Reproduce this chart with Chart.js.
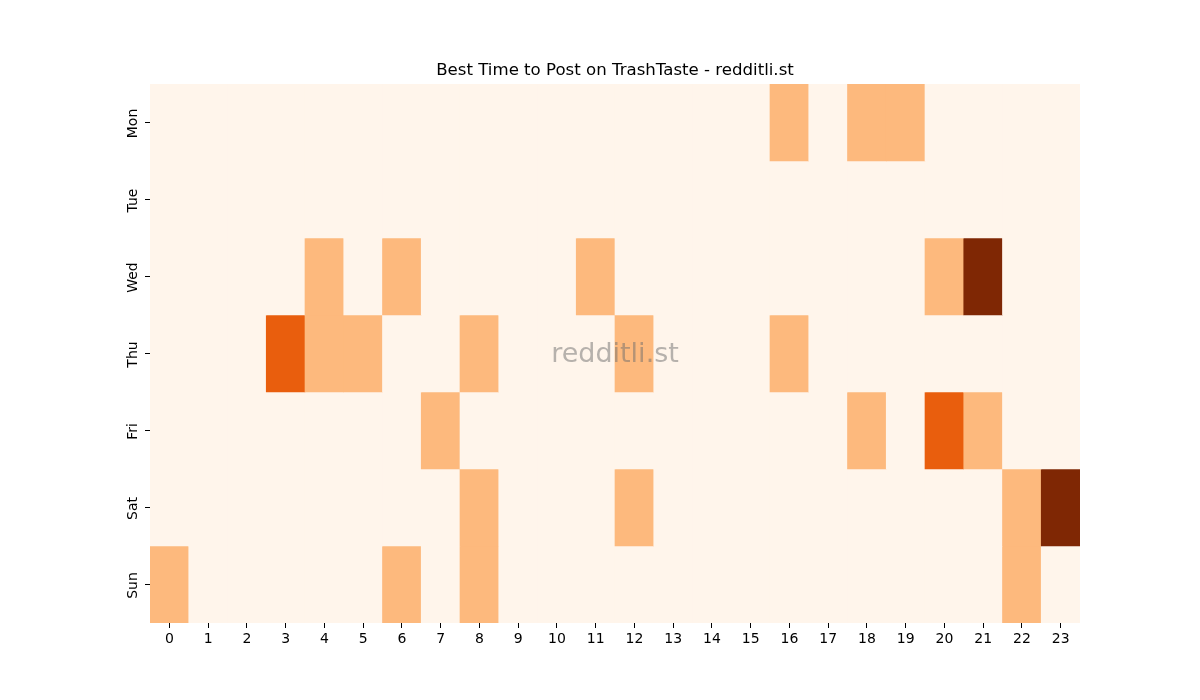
<!DOCTYPE html>
<html>
<head>
<meta charset="utf-8">
<title>Best Time to Post on TrashTaste</title>
<script src="https://cdn.jsdelivr.net/npm/chart.js@4"></script>
<style>
  html, body { margin: 0; padding: 0; background: #fff; }
  #wrap { width: 1200px; height: 700px; }
</style>
</head>
<body>
<div id="wrap"><canvas id="heat" width="1200" height="700"></canvas></div>
<script>
const days = ["Mon", "Tue", "Wed", "Thu", "Fri", "Sat", "Sun"];
const hours = ["0","1","2","3","4","5","6","7","8","9","10","11","12","13","14","15","16","17","18","19","20","21","22","23"];

// post scores per hour, one array per day (0..3)
const mon = [0,0,0,0,0,0,0,0,0,0,0,0,0,0,0,0,1,0,1,1,0,0,0,0];
const tue = [0,0,0,0,0,0,0,0,0,0,0,0,0,0,0,0,0,0,0,0,0,0,0,0];
const wed = [0,0,0,0,1,0,1,0,0,0,0,1,0,0,0,0,0,0,0,0,1,3,0,0];
const thu = [0,0,0,2,1,1,0,0,1,0,0,0,1,0,0,0,1,0,0,0,0,0,0,0];
const fri = [0,0,0,0,0,0,0,1,0,0,0,0,0,0,0,0,0,0,1,0,2,1,0,0];
const sat = [0,0,0,0,0,0,0,0,1,0,0,0,1,0,0,0,0,0,0,0,0,0,1,3];
const sun = [1,0,0,0,0,0,1,0,1,0,0,0,0,0,0,0,0,0,0,0,0,0,1,0];

// Oranges colormap sampled at 0, 1/3, 2/3, 1
const shades = ["#fff5eb", "#fdb97d", "#e95e0d", "#7f2704"];

const rows = [mon, tue, wed, thu, fri, sat, sun];
const titleText = "Best Time to Post on TrashTaste - redditli.st";

const datasets = rows.map((row, d) => ({
  label: days[d],
  data: row.map(() => [d - 0.5, d + 0.5]),
  backgroundColor: row.map(v => shades[v]),
  borderWidth: 0,
  barPercentage: 1,
  categoryPercentage: 1,
  grouped: false
}));

// title centred on the plot, rotated day names, faint site name
const extras = {
  id: "extras",
  afterDatasetsDraw(chart) {
    const { ctx, chartArea, scales } = chart;
    const midX = (chartArea.left + chartArea.right) / 2;
    ctx.save();
    ctx.textAlign = "center";
    ctx.textBaseline = "middle";

    ctx.font = "27px 'DejaVu Sans'";
    ctx.fillStyle = "rgba(110,110,110,0.5)";
    ctx.fillText("redditli.st", midX, (chartArea.top + chartArea.bottom) / 2 + 1);

    ctx.fillStyle = "#000";
    ctx.font = "16.6px 'DejaVu Sans'";
    ctx.fillText(titleText, midX, chartArea.top - 13);

    ctx.font = "14px 'DejaVu Sans'";
    days.forEach((name, i) => {
      const y = scales.y.getPixelForValue(i);
      ctx.save();
      ctx.translate(chartArea.left - 17, y + 1);
      ctx.rotate(-Math.PI / 2);
      ctx.fillText(name, 0, 0);
      ctx.restore();
    });
    ctx.restore();
  }
};

new Chart(document.getElementById("heat"), {
  type: "bar",
  data: { labels: hours, datasets: datasets },
  options: {
    responsive: false,
    animation: false,
    layout: { padding: { left: 110, right: 120, top: 84, bottom: 47 } },
    plugins: {
      legend: { display: false },
      tooltip: { enabled: false },
      title: { display: false }
    },
    scales: {
      x: {
        type: "category",
        border: { display: false },
        grid: { offset: false, drawOnChartArea: false, drawTicks: true, tickLength: 5, color: "#000" },
        ticks: { color: "#000", font: { family: "DejaVu Sans", size: 14 }, padding: 3, maxRotation: 0, autoSkip: false },
        afterFit(s) { s.height = 30; }
      },
      y: {
        type: "linear",
        min: -0.5,
        max: 6.5,
        reverse: true,
        border: { display: false },
        grid: { drawOnChartArea: false, drawTicks: true, tickLength: 5, color: "#000" },
        afterBuildTicks(s) { s.ticks = days.map((_, i) => ({ value: i })); },
        ticks: { display: false },
        afterFit(s) { s.width = 40; }
      }
    }
  },
  plugins: [extras]
});
</script>
</body>
</html>
